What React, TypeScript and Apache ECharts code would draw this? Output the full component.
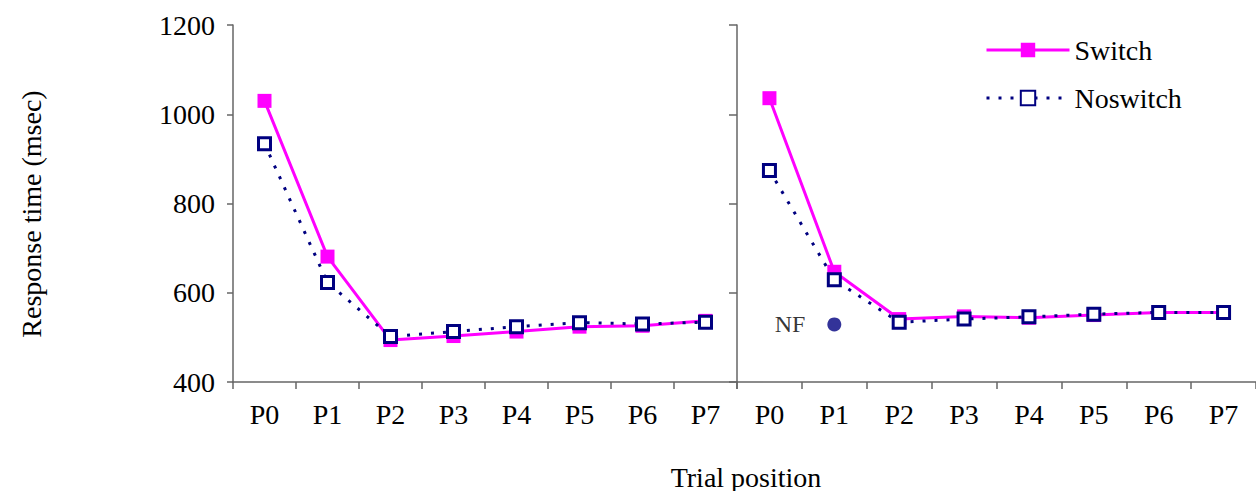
import React, { useEffect, useRef } from "react";
import * as echarts from "echarts";

const categories = ["P0", "P1", "P2", "P3", "P4", "P5", "P6", "P7"];
const leftSwitch = [1030, 681, 494, 503, 513, 524, 526, 537];
const leftNoswitch = [934, 623, 502, 513, 524, 533, 530, 534];
const rightSwitch = [1036, 647, 541, 547, 544, 550, 556, 556];
const rightNoswitch = [874, 629, 534, 541, 546, 552, 556, 556];
const nfCategory = "P1";
const nfValue = 529;
const nfLabel = "NF";
const seriesNames = ["Switch", "Noswitch"];
const yMin = 400;
const yMax = 1200;
const yInterval = 200;
const yTitle = "Response time (msec)";
const xTitle = "Trial position";

const FONT = "Liberation Serif";
const AXIS_COLOR = "#666";
const PINK = "#FF00FF";
const NAVY = "#000080";

export default function App() {
  const ref = useRef<HTMLDivElement>(null);
  useEffect(() => {
    if (!ref.current) return;
    const chart = echarts.init(ref.current, null, { renderer: "svg" });
    const xAxisBase = (gridIndex: number) => ({
      type: "category",
      gridIndex,
      data: categories,
      boundaryGap: true,
      axisLine: { show: true, lineStyle: { color: AXIS_COLOR, width: 1.5 } },
      axisTick: { show: true, length: 7, lineStyle: { color: AXIS_COLOR, width: 1.5 } },
      axisLabel: {
        show: true,
        color: "#000",
        fontFamily: FONT,
        fontSize: 28,
        margin: 18,
      },
      splitLine: { show: false },
    });
    const yAxisBase = (gridIndex: number, showLabel: boolean) => ({
      type: "value",
      gridIndex,
      min: yMin,
      max: yMax,
      interval: yInterval,
      axisLine: { show: true, lineStyle: { color: AXIS_COLOR, width: 1.5 } },
      axisTick: { show: true, length: showLabel ? 6 : 8, lineStyle: { color: AXIS_COLOR, width: 1.5 } },
      axisLabel: {
        show: showLabel,
        color: "#000",
        fontFamily: FONT,
        fontSize: 28,
        margin: 18,
        formatter: (v: number) => String(v),
      },
      splitLine: { show: false },
    });
    const switchSeries = (idx: number, data: number[]) => ({
      name: seriesNames[0],
      type: "line",
      xAxisIndex: idx,
      yAxisIndex: idx,
      data,
      symbol: "rect",
      symbolSize: 14,
      lineStyle: { color: PINK, width: 3 },
      itemStyle: { color: PINK, borderColor: PINK, borderWidth: 0 },
      z: 2,
    });
    const noswitchSeries = (idx: number, data: number[]) => ({
      name: seriesNames[1],
      type: "line",
      xAxisIndex: idx,
      yAxisIndex: idx,
      data,
      symbol: "rect",
      symbolSize: 12,
      showAllSymbol: true,
      lineStyle: { color: NAVY, width: 3, type: [3, 9] },
      itemStyle: { color: "#fff", borderColor: NAVY, borderWidth: 3 },
      z: 3,
    });
    chart.setOption({
      animation: false,
      backgroundColor: "#fff",
      grid: [
        { left: 233, top: 25, width: 504, height: 357 },
        { left: 737, top: 25, width: 526, height: 357 },
      ],
      xAxis: [xAxisBase(0), xAxisBase(1)],
      yAxis: [yAxisBase(0, true), yAxisBase(1, false)],
      legend: {
        orient: "vertical",
        left: 980,
        top: 31,
        itemWidth: 83,
        itemHeight: 18,
        itemGap: 20,
        data: seriesNames,
        lineStyle: { width: 3 },
        textStyle: { color: "#000", fontFamily: FONT, fontSize: 28 },
      },
      series: [
        switchSeries(0, leftSwitch),
        noswitchSeries(0, leftNoswitch),
        switchSeries(1, rightSwitch),
        noswitchSeries(1, rightNoswitch),
        {
          name: "NF",
          type: "scatter",
          xAxisIndex: 1,
          yAxisIndex: 1,
          data: [[nfCategory, nfValue]],
          symbol: "circle",
          symbolSize: 14,
          itemStyle: { color: NAVY },
          label: {
            show: true,
            position: "left",
            distance: 22,
            formatter: nfLabel,
            color: "#000",
            fontFamily: FONT,
            fontSize: 24,
          },
          z: 4,
        },
      ],
      graphic: [
        {
          type: "text",
          x: 31,
          y: 214,
          rotation: Math.PI / 2,
          style: {
            text: yTitle,
            fill: "#000",
            fontFamily: FONT,
            fontSize: 28,
            textAlign: "center",
            textVerticalAlign: "middle",
          },
        },
        {
          type: "text",
          x: 746,
          y: 477,
          style: {
            text: xTitle,
            fill: "#000",
            fontFamily: FONT,
            fontSize: 28,
            textAlign: "center",
            textVerticalAlign: "middle",
          },
        },
      ],
    });
    return () => chart.dispose();
  }, []);
  return (
    <div
      ref={ref}
      style={{ position: "fixed", left: 0, top: 0, width: 1256, height: 491, background: "#fff" }}
    />
  );
}
